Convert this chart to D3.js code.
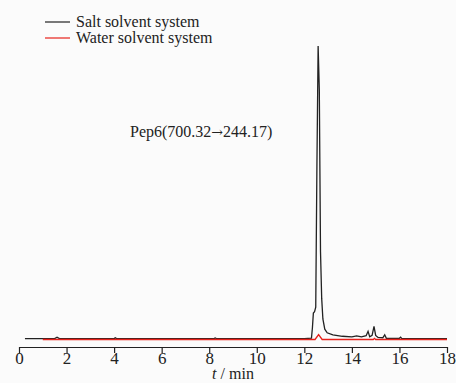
<!DOCTYPE html>
<html>
<head>
<meta charset="utf-8">
<script src="https://cdn.jsdelivr.net/npm/d3@7"></script>
<style>
  body { margin: 0; background: #fbfbfb; }
  svg { display: block; font-family: "Liberation Serif", "Times New Roman", serif; }
</style>
</head>
<body>
<div id="chart"></div>
<script>
// time (min) and relative intensity
const saltTime = [0.25, 1.5, 1.6, 1.7, 4.0, 4.05, 4.1, 8.2, 8.25, 8.3, 12.0, 12.3, 12.34, 12.38, 12.43, 12.48, 12.53, 12.58, 12.63, 12.68, 12.73, 12.78, 12.86, 12.96, 13.2, 13.6, 14.0, 14.2, 14.4, 14.6, 14.68, 14.75, 14.85, 14.93, 15.0, 15.1, 15.3, 15.38, 15.45, 16.0, 16.05, 16.1, 18.0];
const saltValue = [0.3, 0.3, 0.8, 0.3, 0.3, 0.6, 0.3, 0.3, 0.5, 0.3, 0.3, 0.5, 4, 9, 9.5, 11, 60, 100, 85, 30, 14, 7, 3.5, 2.3, 1.6, 1.1, 0.9, 1.2, 0.9, 1.3, 2.8, 0.9, 1.4, 4.5, 1.4, 0.7, 0.6, 1.6, 0.4, 0.4, 0.8, 0.3, 0.3];

const waterTime = [1.0, 12.45, 12.6, 12.75, 14.9, 14.95, 15.0, 18.0];
const waterValue = [0, 0, 1.7, 0, 0, 0.4, 0, 0];

const xTicks = [0, 2, 4, 6, 8, 10, 12, 14, 16, 18];
const seriesNames = ["Salt solvent system", "Water solvent system"];
const seriesColors = ["#222222", "#e8201a"];

const width = 456, height = 383;

const svg = d3.select("#chart").append("svg")
    .attr("width", width)
    .attr("height", height);

svg.append("rect")
    .attr("width", width)
    .attr("height", height)
    .attr("fill", "#fbfbfb");

const x = d3.scaleLinear().domain([0, 18]).range([19, 447]);
const y = d3.scaleLinear().domain([0, 100]).range([339.5, 46]);

const line = d3.line()
    .x(d => x(d[0]))
    .y(d => y(d[1]));

const salt = d3.zip(saltTime, saltValue);
const water = d3.zip(waterTime, waterValue);

svg.append("path")
    .datum(salt)
    .attr("fill", "none")
    .attr("stroke", seriesColors[0])
    .attr("stroke-width", 1.3)
    .attr("d", line);

svg.append("path")
    .datum(water)
    .attr("fill", "none")
    .attr("stroke", seriesColors[1])
    .attr("stroke-width", 1.3)
    .attr("d", line);

// x axis
const xAxis = d3.axisBottom(x)
    .tickValues(xTicks)
    .tickSize(6)
    .tickSizeOuter(0)
    .tickFormat(d3.format("d"));

const gx = svg.append("g")
    .attr("transform", "translate(0,347)")
    .call(xAxis);

gx.attr("font-family", null);
gx.select(".domain").attr("stroke", "#222").attr("stroke-width", 1.2);
gx.selectAll(".tick line").attr("stroke", "#222").attr("stroke-width", 1.2);
gx.selectAll(".tick text")
    .attr("fill", "#222")
    .attr("font-family", "Liberation Serif, serif")
    .attr("font-size", 17)
    .attr("y", 6)
    .attr("dy", "0.62em");

// axis title
const title = svg.append("text")
    .attr("x", 233)
    .attr("y", 379)
    .attr("text-anchor", "middle")
    .attr("font-size", 16)
    .attr("fill", "#222");
title.append("tspan").attr("font-style", "italic").text("t");
title.append("tspan").text(" / min");

// annotation
const note = svg.append("text")
    .attr("x", 130)
    .attr("y", 137)
    .attr("font-size", 16)
    .attr("fill", "#222");
note.append("tspan").text("Pep6(700.32");
note.append("tspan").attr("font-family", "DejaVu Serif, serif").attr("font-size", 14).text("\u2192");
note.append("tspan").text("244.17)");

// legend
const legend = svg.append("g");
seriesNames.forEach((name, i) => {
    const ly = 22 + i * 16;
    legend.append("line")
        .attr("x1", 45).attr("x2", 70)
        .attr("y1", ly).attr("y2", ly)
        .attr("stroke", seriesColors[i])
        .attr("stroke-width", 1.2);
    legend.append("text")
        .attr("x", 76)
        .attr("y", ly + 5)
        .attr("font-size", 16)
        .attr("fill", "#222")
        .text(name);
});
</script>
</body>
</html>
